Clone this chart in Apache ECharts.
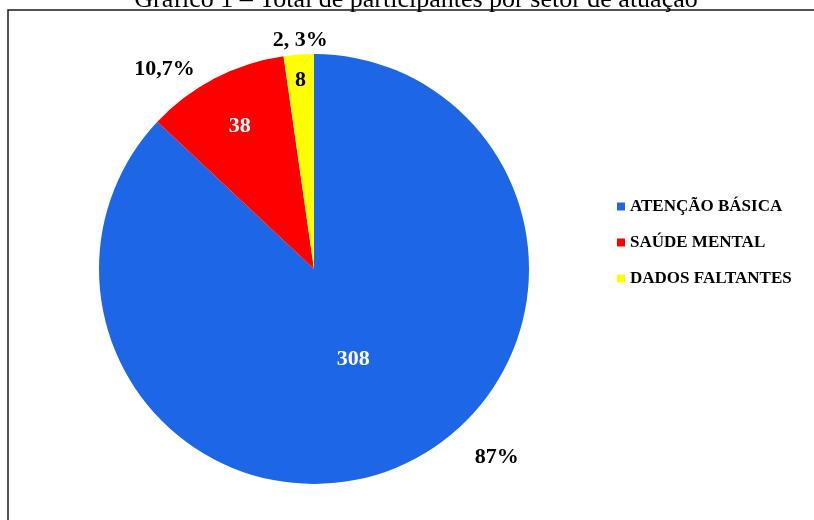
<!DOCTYPE html>
<html>
<head>
<meta charset="utf-8">
<script src="https://cdn.jsdelivr.net/npm/echarts@6/dist/echarts.min.js"></script>
<style>
  html, body { margin: 0; padding: 0; background: #fff; }
  #chart { width: 814px; height: 520px; }
</style>
</head>
<body>
<div id="chart"></div>
<script>
// Participants by sector
const categories = ['ATENÇÃO BÁSICA', 'SAÚDE MENTAL', 'DADOS FALTANTES'];
const counts = [308, 38, 8];
const pctLabels = ['87%', '10,7%', '2, 3%'];
const colors = ['#1d66e6', '#ff0000', '#ffff00'];
const titleText = 'Gráfico 1 – Total de participantes por setor de atuação';

const CX = 314, CY = 269, R = 215;
const serif = '"Liberation Serif", "Times New Roman", serif';

// mid angle (degrees, counter-clockwise from +x) of each slice, clockwise from 12 o'clock
const total = counts.reduce((a, b) => a + b, 0);
const midAngles = [];
let acc = 0;
counts.forEach(v => {
  const span = v / total * 360;
  midAngles.push(90 - acc - span / 2);
  acc += span;
});

// where the count sits along the slice radius
const countRadius = [0.46, 0.75, 0.88];
// outside percentage labels: angular shift from the slice mid angle, and distance in radii
const pctShift = [20.8, 9.4, -0.6];
const pctRadius = [1.22, 1.16, 1.065];

function polar(angleDeg, frac) {
  const a = angleDeg * Math.PI / 180;
  return { x: CX + Math.cos(a) * R * frac, y: CY - Math.sin(a) * R * frac };
}

const pieData = categories.map((name, i) => ({
  name: name,
  value: counts[i],
  itemStyle: { color: colors[i] },
  label: { color: i === 2 ? '#000' : '#fff' }
}));

const chart = echarts.init(document.getElementById('chart'), null, { renderer: 'canvas' });

chart.setOption({
  animation: false,
  backgroundColor: '#fff',
  graphic: [
    {
      type: 'rect',
      shape: { x: 8, y: 10, width: 840, height: 540 },
      style: { fill: null, stroke: '#1a1a1a', lineWidth: 1.5 },
      silent: true,
      z: 0
    },
    {
      type: 'text',
      x: 416,
      y: 13,
      style: {
        text: titleText,
        font: 'normal 26px ' + serif,
        fill: '#000',
        align: 'center',
        verticalAlign: 'bottom'
      },
      silent: true
    }
  ],
  legend: {
    orient: 'vertical',
    left: 612,
    top: 193,
    icon: 'rect',
    itemWidth: 8,
    itemHeight: 8,
    itemGap: 19,
    data: categories,
    textStyle: { fontFamily: serif, fontWeight: 'bold', fontSize: 17, color: '#000' }
  },
  series: [
    {
      name: 'Participantes',
      type: 'pie',
      center: [CX, CY],
      radius: R,
      startAngle: 90,
      clockwise: true,
      avoidLabelOverlap: false,
      data: pieData,
      label: {
        show: true,
        position: 'inside',
        formatter: '{c}',
        fontFamily: serif,
        fontWeight: 'bold',
        fontSize: 22
      },
      labelLine: { show: false },
      labelLayout: function (p) {
        const pt = polar(midAngles[p.dataIndex], countRadius[p.dataIndex]);
        return { x: pt.x, y: pt.y, align: 'center', verticalAlign: 'middle' };
      },
      emphasis: { disabled: true }
    },
    {
      name: 'Percentual',
      type: 'pie',
      center: [CX, CY],
      radius: R,
      startAngle: 90,
      clockwise: true,
      silent: true,
      avoidLabelOverlap: false,
      legendHoverLink: false,
      data: categories.map((name, i) => ({ name: name, value: counts[i] })),
      itemStyle: { color: 'rgba(0,0,0,0)' },
      label: {
        show: true,
        position: 'outside',
        formatter: p => pctLabels[p.dataIndex],
        fontFamily: serif,
        fontWeight: 'bold',
        fontSize: 22,
        color: '#000'
      },
      labelLine: { show: false },
      labelLayout: function (p) {
        const i = p.dataIndex;
        const pt = polar(midAngles[i] + pctShift[i], pctRadius[i]);
        return { x: pt.x, y: pt.y, align: 'center', verticalAlign: 'middle' };
      },
      emphasis: { disabled: true }
    }
  ]
});
</script>
</body>
</html>
